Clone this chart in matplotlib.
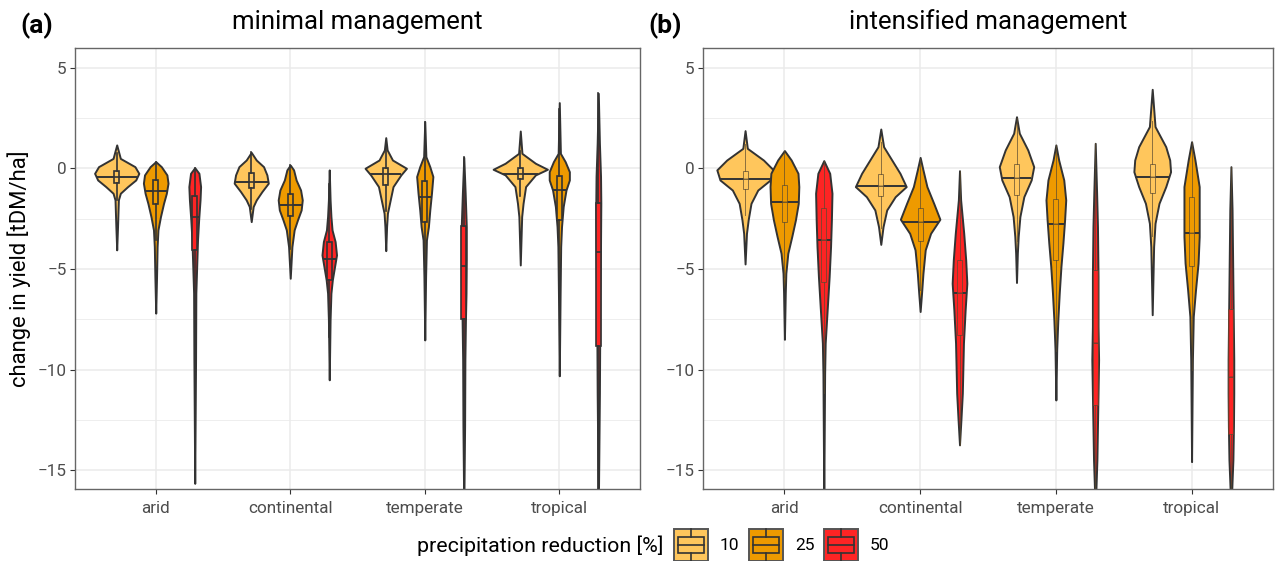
import numpy as np
import matplotlib
matplotlib.use("Agg")
import matplotlib.pyplot as plt
from matplotlib.patches import Rectangle, Patch
from matplotlib.lines import Line2D
from matplotlib.legend_handler import HandlerBase

plt.rcParams['font.family'] = ['Roboto', 'DejaVu Sans']

climates = ["arid", "continental", "temperate", "tropical"]
reductions = [10, 25, 50]
colors = ["#FFC65C", "#EE9A00", "#FE2424"]

# violin outlines: (yield change, relative width) per reduction 10/25/50
minimal_arid = [
    ([1.16, 0.49, 0.08, -0.25, -0.58, -0.91, -1.24, -1.57, -2.9, -4.05],
     [0, 0.13, 0.65, 0.79, 0.68, 0.39, 0.13, 0.06, 0.03, 0]),
    ([0.33, 0.08, -0.33, -0.74, -1.24, -1.74, -2.4, -3.06, -3.89, -5.38, -7.19],
     [0, 0.2, 0.40, 0.44, 0.38, 0.28, 0.17, 0.08, 0.05, 0.03, 0]),
    ([0.03, -0.25, -0.91, -1.57, -2.56, -3.56, -4.88, -6.2, -9.5, -15.64],
     [0, 0.15, 0.21, 0.19, 0.14, 0.10, 0.07, 0.04, 0.03, 0]),
]
minimal_continental = [
    ([0.79, 0.41, 0.08, -0.33, -0.74, -1.16, -1.57, -1.9, -2.65],
     [0, 0.18, 0.44, 0.56, 0.61, 0.38, 0.18, 0.07, 0]),
    ([0.16, -0.08, -0.58, -1.08, -1.57, -2.07, -2.56, -3.06, -3.89, -5.46],
     [0, 0.12, 0.21, 0.37, 0.43, 0.39, 0.26, 0.14, 0.06, 0]),
    ([-0.08, -1.57, -2.4, -3.06, -3.64, -4.3, -4.88, -5.54, -6.2, -7.53, -10.5],
     [0, 0.03, 0.06, 0.1, 0.21, 0.26, 0.19, 0.11, 0.06, 0.03, 0]),
]
minimal_temperate = [
    ([1.52, 0.91, 0.41, 0.0, -0.33, -0.91, -1.57, -2.23, -2.9, -4.09],
     [0, 0.05, 0.24, 0.74, 0.54, 0.26, 0.16, 0.06, 0.03, 0]),
    ([2.32, 0.58, 0.08, -0.41, -1.24, -2.07, -2.9, -3.56, -5.38, -8.52],
     [0, 0.04, 0.18, 0.29, 0.24, 0.18, 0.13, 0.06, 0.03, 0]),
    ([0.54, -1.24, -2.9, -4.55, -6.2, -7.53, -9.5, -12.8, -17.0],
     [0, 0.05, 0.09, 0.09, 0.08, 0.06, 0.04, 0.03, 0]),
]
minimal_tropical = [
    ([1.85, 0.74, 0.25, -0.05, -0.33, -0.91, -1.74, -2.4, -4.8],
     [0, 0.06, 0.54, 0.97, 0.54, 0.19, 0.1, 0.05, 0]),
    ([3.26, 0.74, 0.33, -0.17, -0.58, -1.08, -1.9, -2.9, -3.89, -6.2, -10.3],
     [0, 0.04, 0.21, 0.36, 0.36, 0.24, 0.14, 0.08, 0.05, 0.03, 0]),
    ([3.72, 1.24, -0.41, -1.74, -3.72, -6.2, -8.68, -11.17, -17.0],
     [0, 0.04, 0.08, 0.09, 0.08, 0.06, 0.05, 0.04, 0]),
]

intensified_arid = [
    ([1.87, 0.99, 0.41, -0.08, -0.58, -1.08, -1.74, -2.56, -3.23, -4.75],
     [0, 0.08, 0.65, 1.0, 0.89, 0.45, 0.21, 0.11, 0.05, 0]),
    ([0.88, 0.41, -0.25, -0.91, -1.74, -2.56, -3.39, -4.22, -5.21, -6.2, -8.49],
     [0, 0.24, 0.48, 0.51, 0.49, 0.39, 0.26, 0.12, 0.05, 0.03, 0]),
    ([0.38, -0.25, -1.24, -2.56, -3.89, -5.38, -7.03, -8.68, -10.2, -16.5],
     [0, 0.21, 0.29, 0.27, 0.24, 0.19, 0.12, 0.05, 0.03, 0]),
]
intensified_continental = [
    ([1.95, 1.07, 0.41, -0.25, -0.91, -1.41, -2.07, -2.9, -3.78],
     [0, 0.1, 0.39, 0.68, 0.9, 0.51, 0.21, 0.08, 0]),
    ([0.54, -0.08, -0.91, -1.74, -2.53, -3.23, -4.05, -5.21, -6.2, -7.11],
     [0, 0.1, 0.24, 0.48, 0.7, 0.37, 0.18, 0.1, 0.05, 0]),
    ([-0.12, -1.57, -3.23, -4.55, -5.71, -7.03, -8.68, -11.17, -12.5, -13.73],
     [0, 0.04, 0.15, 0.22, 0.26, 0.2, 0.14, 0.1, 0.05, 0]),
]
intensified_temperate = [
    ([2.56, 1.74, 0.91, 0.08, -0.58, -1.41, -2.4, -3.39, -4.22, -5.67],
     [0, 0.1, 0.4, 0.61, 0.52, 0.26, 0.12, 0.06, 0.03, 0]),
    ([1.16, 0.41, -0.58, -1.57, -2.56, -3.72, -4.88, -6.2, -7.53, -9.0, -11.5],
     [0, 0.1, 0.28, 0.35, 0.31, 0.25, 0.18, 0.12, 0.07, 0.03, 0]),
    ([1.24, -1.24, -2.9, -5.38, -7.86, -9.5, -11.17, -12.8, -14.47, -17.0],
     [0, 0.05, 0.08, 0.1, 0.1, 0.12, 0.1, 0.08, 0.06, 0]),
]
intensified_tropical = [
    ([3.92, 2.07, 1.07, 0.41, -0.17, -0.91, -1.74, -2.73, -3.89, -7.27],
     [0, 0.1, 0.48, 0.62, 0.65, 0.48, 0.24, 0.1, 0.05, 0]),
    ([1.32, 0.41, -0.91, -2.07, -3.39, -4.71, -6.03, -7.36, -9.5, -14.56],
     [0, 0.12, 0.27, 0.27, 0.27, 0.23, 0.14, 0.06, 0.03, 0]),
    ([0.08, -2.07, -4.55, -7.03, -9.5, -11.17, -12.8, -14.47, -17.0],
     [0, 0.04, 0.06, 0.08, 0.1, 0.1, 0.09, 0.07, 0]),
]

# medians and quartiles, rows = climates, cols = reductions
minimal_median = [[-0.41, -1.12, -2.4], [-0.66, -1.82, -4.5], [-0.3, -1.44, -4.83], [-0.28, -1.08, -4.17]]
minimal_q1 = [[-0.71, -1.77, -4.05], [-0.96, -2.37, -5.54], [-0.84, -2.66, -7.5], [-0.53, -2.56, -8.8]]
minimal_q3 = [[-0.13, -0.58, -1.37], [-0.25, -1.29, -3.64], [0.0, -0.63, -2.86], [0.03, -0.36, -1.74]]

intensified_median = [[-0.53, -1.67, -3.56], [-0.86, -2.65, -6.2], [-0.5, -2.78, -8.68], [-0.41, -3.19, -10.34]]
intensified_q1 = [[-1.01, -2.66, -5.64], [-1.36, -3.6, -8.27], [-1.32, -4.55, -11.75], [-1.21, -4.85, -13.2]]
intensified_q3 = [[-0.13, -0.84, -1.97], [-0.3, -1.98, -4.55], [0.2, -1.54, -5.05], [0.21, -1.41, -7.0]]

panels = [
    ("(a)", "minimal management",
     [minimal_arid, minimal_continental, minimal_temperate, minimal_tropical],
     minimal_median, minimal_q1, minimal_q3),
    ("(b)", "intensified management",
     [intensified_arid, intensified_continental, intensified_temperate, intensified_tropical],
     intensified_median, intensified_q1, intensified_q3),
]

W = 1284
H = 561
fig = plt.figure(figsize=(W / 100, H / 100), dpi=100)

dodge = 0.29
full_width = 0.416
edge = "#333333"

axes_px = [(75, 640), (703, 1273)]
top_px, bot_px = 48, 489

for k, (tag, title, profiles, med, q1, q3) in enumerate(panels):
    x0, x1 = axes_px[k]
    ax = fig.add_axes([x0 / W, 1 - bot_px / H, (x1 - x0) / W, (bot_px - top_px) / H])
    thin = (k == 1)
    for i, clim in enumerate(profiles):
        for j, (ys, ws) in enumerate(clim):
            ys = np.array(ys)
            ws = np.array(ws)
            pos = i + (j - 1) * dodge
            order = np.argsort(ys)
            stats = dict(coords=ys[order], vals=ws[order], mean=med[i][j],
                         median=med[i][j], min=ys.min(), max=ys.max())
            vw = ws.max() * full_width
            parts = ax.violin([stats], positions=[pos], widths=[vw],
                              showextrema=False)
            for b in parts['bodies']:
                b.set_facecolor(colors[j])
                b.set_edgecolor(edge)
                b.set_linewidth(1.4)
                b.set_alpha(1)
                b.set_joinstyle('round')
                b.set_zorder(2)
            # median line across the violin
            half = 0.5 * vw * np.interp(med[i][j], ys[order], ws[order]) / ws.max()
            ax.plot([pos - half, pos + half], [med[i][j]] * 2, color=edge,
                    lw=1.4, zorder=3, solid_capstyle='butt')
            # inner box
            iqr = q3[i][j] - q1[i][j]
            bstats = dict(med=med[i][j], q1=q1[i][j], q3=q3[i][j],
                          whislo=max(ys.min(), q1[i][j] - 1.5 * iqr),
                          whishi=min(ys.max(), q3[i][j] + 1.5 * iqr))
            lw = 0.7 if thin else 1.2
            ec = "#5a4a30" if thin else edge
            al = 0.7 if thin else 1.0
            ax.bxp([bstats], positions=[pos], widths=0.036, showfliers=False,
                   showcaps=False, patch_artist=True,
                   boxprops=dict(facecolor=colors[j], edgecolor=ec, linewidth=lw, alpha=al),
                   whiskerprops=dict(color=ec, linewidth=lw, alpha=al),
                   medianprops=dict(color=ec, linewidth=lw, alpha=al),
                   zorder=4, manage_ticks=False)

    ax.set_xlim(-0.6, 3.6)
    ax.set_ylim(-15.92, 5.97)
    ax.set_xticks(range(len(climates)))
    ax.set_xticklabels(climates)
    ax.set_yticks([-15, -10, -5, 0, 5])
    ax.set_yticks([-12.5, -7.5, -2.5, 2.5], minor=True)
    ax.grid(True, which='major', color='#EBEBEB', lw=1.1, zorder=0)
    ax.grid(True, which='minor', axis='y', color='#EBEBEB', lw=0.6, zorder=0)
    ax.set_axisbelow(True)
    ax.tick_params(which='major', length=3.5, width=0.8, color='#333333',
                   labelsize=12.3, labelcolor='#4D4D4D', pad=2.5)
    ax.tick_params(axis='x', which='major', pad=5)
    ax.tick_params(which='minor', length=0)
    for s in ax.spines.values():
        s.set_color('#666666')
        s.set_linewidth(1.0)
    if k == 0:
        ax.set_ylabel("change in yield [tDM/ha]", fontsize=15.8, labelpad=5)
    fig.text((x0 + x1) / 2 / W, 1 - 22 / H, title, ha='center', va='center', fontsize=18.5)
    fig.text((x0 - 55) / W, 1 - 26 / H, tag, ha='left', va='center',
             fontsize=19, fontweight='bold')


class BoxKey(HandlerBase):
    def create_artists(self, legend, orig_handle, xdescent, ydescent, width, height,
                       fontsize, trans):
        fc = orig_handle.get_facecolor()
        x0, y0 = -xdescent, -ydescent
        out = [Rectangle((x0, y0), width, height, facecolor=fc, edgecolor='#555555',
                         lw=1.4, transform=trans),
               Rectangle((x0 + 0.12 * width, y0 + 0.25 * height), 0.76 * width, 0.5 * height,
                         facecolor='none', edgecolor=edge, lw=1.2, transform=trans),
               Line2D([x0 + 0.12 * width, x0 + 0.88 * width], [y0 + 0.5 * height] * 2,
                      color=edge, lw=1.2, transform=trans),
               Line2D([x0 + width / 2] * 2, [y0, y0 + 0.25 * height],
                      color=edge, lw=1.2, transform=trans),
               Line2D([x0 + width / 2] * 2, [y0 + 0.75 * height, y0 + height],
                      color=edge, lw=1.2, transform=trans)]
        return out


handles = [Patch(facecolor=c) for c in colors]
fig.legend(handles, [str(r) for r in reductions], loc='center left',
           bbox_to_anchor=(674 / W, 16 / H), ncol=3, frameon=False, fontsize=12.5,
           handlelength=1.95, handleheight=2.54, handletextpad=0.7, columnspacing=0.55,
           borderpad=0, borderaxespad=0, handler_map={Patch: BoxKey()})
fig.text(663 / W, 15 / H, "precipitation reduction [%]", ha='right', va='center',
         fontsize=15.4)

fig.savefig("out.png", dpi=100)
